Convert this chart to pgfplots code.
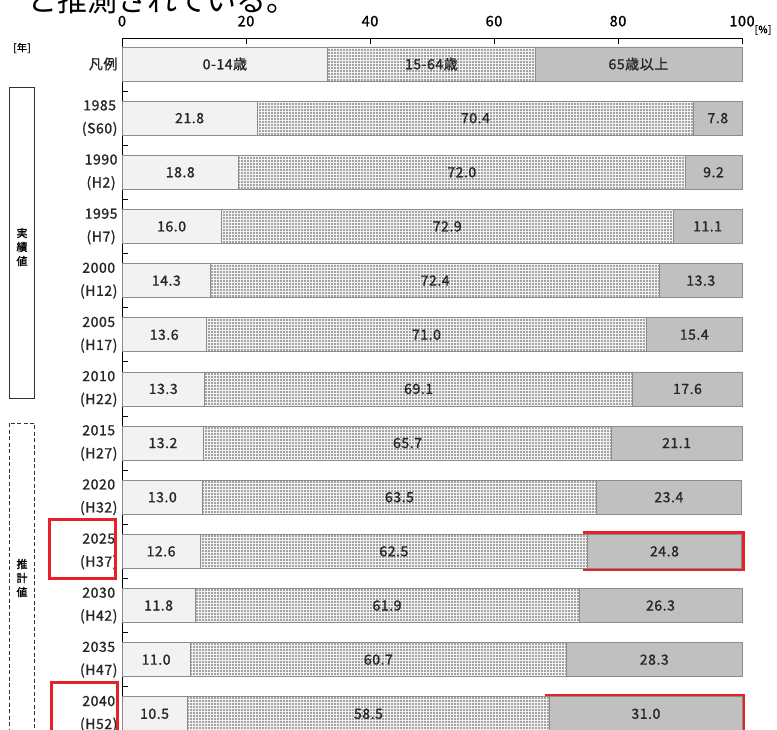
\documentclass[border=0pt]{standalone}
\usepackage{fontspec}
\setmainfont{Noto Sans CJK JP}
\newfontfamily\lab[FakeBold=1.2, LetterSpace=4]{Noto Sans CJK JP}
\usepackage{pgfplots}
\usepackage{pgfplotstable}
\pgfplotsset{compat=1.18}
\usetikzlibrary{patterns}
\definecolor{young}{HTML}{F2F2F2}
\definecolor{work}{HTML}{A4A4A4}
\definecolor{old}{HTML}{C0C0C0}
\definecolor{edge}{HTML}{8C8C8C}
\definecolor{hl}{HTML}{E62129}

\pgfplotstableread[col sep=comma]{
y,a,b,c,la,lb,lc
0,33.2,33.4,33.4,0-14歳,15-64歳,65歳以上
-1,21.8,70.4,7.8,21.8,70.4,7.8
-2,18.8,72.0,9.2,18.8,72.0,9.2
-3,16.0,72.9,11.1,16.0,72.9,11.1
-4,14.3,72.4,13.3,14.3,72.4,13.3
-5,13.6,71.0,15.4,13.6,71.0,15.4
-6,13.3,69.1,17.6,13.3,69.1,17.6
-7,13.2,65.7,21.1,13.2,65.7,21.1
-8,13.0,63.5,23.4,13.0,63.5,23.4
-9,12.6,62.5,24.8,12.6,62.5,24.8
-10,11.8,61.9,26.3,11.8,61.9,26.3
-11,11.0,60.7,28.3,11.0,60.7,28.3
-12,10.5,58.5,31.0,10.5,58.5,31.0
}\data

\pgfplotsset{common/.style={
  at={(0,0)}, anchor=north west,
  scale only axis,
  width=620pt, height=708.3pt,
  xmin=0, xmax=100, ymin=-12.6, ymax=0.48,
  clip=false,
}}

\begin{document}
\begin{tikzpicture}
\useasboundingbox (-122pt,38pt) rectangle (655pt,-691pt);
\node[anchor=base west, font=\fontsize{30}{34}\selectfont, inner sep=0pt] at (-95pt,27pt) {と推測されている。};
\begin{axis}[
  common,
  xbar stacked, bar width=34pt,
  axis x line*=top, axis y line*=left,
  axis line style={black, line width=0.8pt},
  xtick={0,20,40,60,80,100},
  xticklabel style={font=\lab\fontsize{14.5}{18}\selectfont, yshift=8pt},
  /pgf/number format/assume math mode=true,
  tick align=inside,
  major tick length=6pt,
  x tick style={black, line width=0.8pt},
  ytick={0,-1,...,-12},
  yticklabels={凡例,{1985\\(S60)},{1990\\(H2)},{1995\\(H7)},{2000\\(H12)},{2005\\(H17)},{2010\\(H22)},{2015\\(H27)},{2020\\(H32)},{2025\\(H37)},{2030\\(H42)},{2035\\(H47)},{2040\\(H52)}},
  yticklabel style={align=center, font=\lab\fontsize{14}{23}\selectfont, xshift=-1pt, text=black!85},
  y tick style={draw=none},
  extra y ticks={-0.5,-1.5,...,-12.5},
  extra y tick labels={},
  extra y tick style={y tick style={draw=black, line width=0.8pt}},
]
\addplot[fill=young, draw=edge, line width=0.8pt] table[x=a, y=y] {\data};
\addplot[fill=work, draw=edge, line width=0.8pt,
  postaction={pattern=grid, pattern color=white!90!gray}] table[x=b, y=y] {\data};
\addplot[fill=old, draw=edge, line width=0.8pt] table[x=c, y=y] {\data};
\draw[hl, line width=3pt] (axis cs:74.6,-8.66) rectangle (axis cs:100.3,-9.34);
\draw[hl, line width=3pt] (axis cs:68.5,-11.66) rectangle (axis cs:100.3,-12.34);
\end{axis}
\begin{axis}[
  common, hide axis,
  nodes near coords,
  point meta=explicit symbolic,
  every node near coord/.append style={font=\lab\fontsize{14}{18}\selectfont, anchor=center, text=black!85},
]
\addplot[draw=none, mark=none] table[x expr=\thisrow{a}/2, y=y, meta=la] {\data};
\addplot[draw=none, mark=none] table[x expr=\thisrow{a}+\thisrow{b}/2, y=y, meta=lb] {\data};
\addplot[draw=none, mark=none] table[x expr=\thisrow{a}+\thisrow{b}+\thisrow{c}/2, y=y, meta=lc] {\data};
\end{axis}
% annotations
\node[font=\lab\fontsize{10}{12}\selectfont] at (641pt,8pt) {[\%]};
\node[font=\lab\fontsize{10}{12}\selectfont] at (-100pt,-10pt) {[年]};
\draw[black!80, line width=1pt] (-112pt,-49pt) rectangle (-87pt,-360pt);
\draw[black!80, line width=1pt, dash pattern=on 4pt off 2.5pt] (-112pt,-385pt) rectangle (-87pt,-720pt);
\node[align=center, font=\lab\fontsize{11}{14}\selectfont] at (-100pt,-209pt) {実\\績\\値};
\node[align=center, font=\lab\fontsize{11}{14}\selectfont] at (-100pt,-540pt) {推\\計\\値};
\draw[hl, line width=3pt] (-72pt,-481pt) rectangle (-6pt,-540pt);
\draw[hl, line width=3pt] (-70pt,-644pt) rectangle (-4pt,-704pt);
\end{tikzpicture}
\end{document}
